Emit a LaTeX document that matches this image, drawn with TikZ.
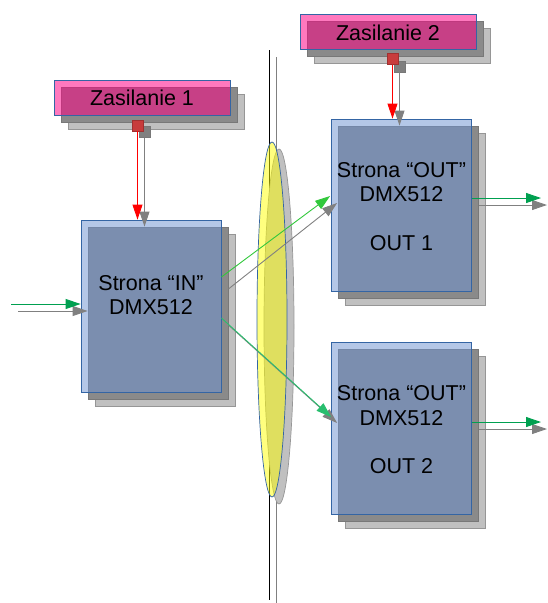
\documentclass[tikz,border=0pt]{standalone}
\usepackage{fontspec}
\setmainfont{Liberation Sans}
\usetikzlibrary{arrows.meta,shapes.geometric}
\definecolor{boxblue}{RGB}{111,147,209}
\definecolor{bordblue}{RGB}{52,101,164}
\definecolor{pinkm}{RGB}{255,0,132}
\definecolor{shone}{RGB}{138,138,138}
\definecolor{shonedraw}{RGB}{120,120,120}
\definecolor{shtwo}{RGB}{192,192,192}
\definecolor{shtwodraw}{RGB}{150,150,150}
\definecolor{gdark}{RGB}{0,160,80}
\definecolor{glime}{RGB}{50,200,60}
\definecolor{gteal}{RGB}{40,190,110}
\definecolor{shline}{RGB}{128,128,128}
\definecolor{redsq}{RGB}{200,60,60}
\definecolor{lensy}{RGB}{255,255,0}
\tikzset{
  tx/.style={font=\fontsize{21.5}{24}\selectfont, anchor=base, inner sep=0},
  bigbox/.style={minimum width=140pt, minimum height=172pt, inner sep=0, line width=0.8pt},
  zasbox/.style={minimum width=176pt, minimum height=35pt, inner sep=0, line width=0.8pt},
  mainblue/.style={draw=bordblue, fill=boxblue, fill opacity=0.52},
  mainpink/.style={draw=bordblue, fill=pinkm, fill opacity=0.53},
  shadeone/.style={draw=shonedraw, fill=shone},
  shadetwo/.style={draw=shtwodraw, fill=shtwo},
  tip/.style={-{Triangle[length=15pt,width=10pt]}, line width=0.9pt},
  sq/.style={minimum size=11pt, inner sep=0, line width=0.5pt},
  lens/.style={ellipse, minimum width=30pt, minimum height=355pt, inner sep=0, line width=0.7pt},
}
\begin{document}
\begin{tikzpicture}[x=1pt,y=-1pt]
\useasboundingbox (0,0) rectangle (547,603);

% separator line and its shadow
\coordinate (vs1) at (276,57);
\coordinate (vs2) at (276,603);
\coordinate (v1) at (269,50);
\coordinate (v2) at (269,600);
\draw[shline, line width=0.8pt] (vs1) -- (vs2);
\draw[black, line width=0.8pt] (v1) -- (v2);

% lens
\node[lens, draw=shtwodraw, fill=shtwo] (lenssh) at (279,326.5) {};
\node[lens, draw=bordblue, fill=lensy, fill opacity=0.5] (lensmain) at (272,319.5) {};

% Zasilanie 1
\node[zasbox, shadetwo] (z1s2) at (156,111.5) {};
\node[zasbox, shadeone] (z1s1) at (149,104.5) {};
\node[zasbox, mainpink] (z1) at (142,97.5) {};
\node[tx] (z1t) at (142,105.7) {Zasilanie 1};

% Zasilanie 2
\node[zasbox, shadetwo] (z2s2) at (402,45.5) {};
\node[zasbox, shadeone] (z2s1) at (395,38.5) {};
\node[zasbox, mainpink] (z2) at (388,31.5) {};
\node[tx] (z2t) at (388,40) {Zasilanie 2};

% IN box
\node[bigbox, shadetwo] (ins2) at (165,320) {};
\node[bigbox, shadeone] (ins1) at (158,313) {};
\node[bigbox, mainblue] (in) at (151,306) {};
\node[tx] (int1) at (151,290) {Strona “IN”};
\node[tx] (int2) at (151,314) {DMX512};

% OUT 1 box
\node[bigbox, shadetwo] (o1s2) at (415.5,219) {};
\node[bigbox, shadeone] (o1s1) at (408.5,212) {};
\node[bigbox, mainblue] (o1) at (401.5,205) {};
\node[tx] (o1t1) at (401.5,177) {Strona “OUT”};
\node[tx] (o1t2) at (401.5,201) {DMX512};
\node[tx] (o1t3) at (401.5,250) {OUT 1};

% OUT 2 box
\node[bigbox, shadetwo] (o2s2) at (415.5,442.5) {};
\node[bigbox, shadeone] (o2s1) at (408.5,435.5) {};
\node[bigbox, mainblue] (o2) at (401.5,428.5) {};
\node[tx] (o2t1) at (401.5,400) {Strona “OUT”};
\node[tx] (o2t2) at (401.5,425) {DMX512};
\node[tx] (o2t3) at (401.5,473) {OUT 2};

% connector markers
\node[sq, draw=shonedraw, fill=shline] (g1) at (144.5,132) {};
\node[sq, draw=redsq!80!black, fill=redsq] (r1) at (137.5,125.5) {};
\node[sq, draw=shonedraw, fill=shline] (g2) at (399.5,66.5) {};
\node[sq, draw=redsq!80!black, fill=redsq] (r2) at (392.5,59) {};

% power connectors
\draw[tip, shline] (g1.south) -- (g1.south |- ins1.north);
\draw[tip, red] (r1.south) -- (r1.south |- in.north);
\draw[tip, shline] (g2.south) -- (g2.south |- o1s1.north);
\draw[tip, red] (r2.south) -- (r2.south |- o1.north);

% input
\coordinate (ing) at (11,304);
\coordinate (insh) at (18,311);
\draw[tip, shline] (insh) -- ([yshift=2pt]ins1.west);
\draw[tip, gdark] (ing) -- ([yshift=2pt]in.west);

% diagonal connectors
\draw[tip, shline] ([yshift=24pt]ins1.east) -- ([yshift=9pt,xshift=-1pt]o1s1.west);
\draw[tip, glime] ([yshift=29pt]in.east) -- ([yshift=9pt,xshift=-1pt]o1.west);
\draw[tip, shline] ([yshift=-12pt]ins1.east) -- ([yshift=12.5pt,xshift=-1pt]o2s1.west);
\draw[tip, gteal] ([yshift=-12pt]in.east) -- ([yshift=11.5pt]o2.west);

% outputs
\coordinate (o1end) at (541,198);
\coordinate (o1shend) at (547,205);
\coordinate (o2end) at (541,422);
\coordinate (o2shend) at (547,429);
\draw[tip, shline] ([yshift=7pt]o1s1.east) -- (o1shend);
\draw[tip, gdark] ([yshift=7pt]o1.east) -- (o1end);
\draw[tip, shline] ([yshift=6.5pt]o2s1.east) -- (o2shend);
\draw[tip, gdark] ([yshift=6.5pt]o2.east) -- (o2end);
\end{tikzpicture}
\end{document}
